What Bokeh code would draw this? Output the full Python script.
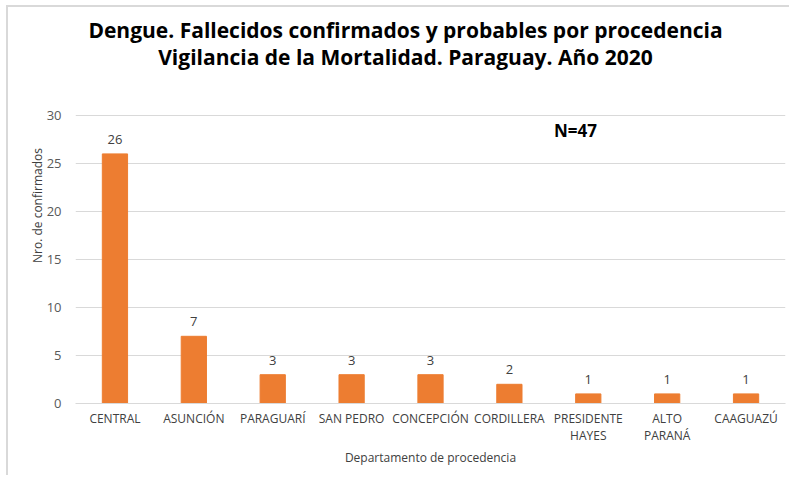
from bokeh.plotting import figure
from bokeh.models import (ColumnDataSource, Range1d, LabelSet, Label, FixedTicker, LinearAxis)
from bokeh.core.properties import value
from bokeh.embed import file_html
from bokeh.resources import INLINE

categories = ["CENTRAL", "ASUNCIÓN", "PARAGUARÍ", "SAN PEDRO", "CONCEPCIÓN",
              "CORDILLERA", "PRESIDENTE HAYES", "ALTO PARANÁ", "CAAGUAZÚ"]
deaths = [26, 7, 3, 3, 3, 2, 1, 1, 1]
y_ticks = [0, 5, 10, 15, 20, 25, 30]
label_line1 = ["CENTRAL", "ASUNCIÓN", "PARAGUARÍ", "SAN PEDRO", "CONCEPCIÓN",
               "CORDILLERA", "PRESIDENTE", "ALTO", "CAAGUAZÚ"]
label_line2 = ["", "", "", "", "", "", "HAYES", "PARANÁ", ""]
title_lines = ["Dengue. Fallecidos confirmados y probables por procedencia",
               "Vigilancia de la Mortalidad. Paraguay. Año 2020"]
total_label = "N=47"

FONT = "Open Sans"
BAR = "#ED7D31"
GRID = "#d9d9d9"
TXT = "#404040"

pos = list(range(len(categories)))
src = ColumnDataSource(dict(x=pos, top=deaths, name=categories,
                            txt=[str(v) for v in deaths]))

# frame spans from the top of the figure down to the zero line; the
# upper part of the frame holds the title text (grid only up to 30)
Y_MAX = 30
y_top = Y_MAX * 396 / 288

p = figure(width=783, height=470, output_backend="svg", toolbar_location=None,
           x_range=Range1d(-0.5, len(categories) - 0.5),
           y_range=Range1d(0, y_top),
           min_border_left=67, min_border_right=6, min_border_top=0, min_border_bottom=74)
p.margin = (7, 0, 0, 8)
p.styles = {"box-shadow": "-2px -2px 0 0 #d9d9d9"}
p.outline_line_color = None
p.background_fill_color = "white"
p.border_fill_color = "white"

p.vbar(x="x", top="top", width=0.32, source=src, fill_color=BAR, line_color=BAR)

p.add_layout(LabelSet(x="x", y="top", text="txt", source=src, text_align="center",
                      text_baseline="bottom", y_offset=10, text_font=value(FONT),
                      text_font_size="13px", text_color=TXT))

# Title
p.add_layout(Label(x=3.683, y=38.95, text=title_lines[0], text_align="center",
                   text_baseline="middle", text_font=FONT, text_font_size="21px",
                   text_font_style="bold", text_color="#000000"))
p.add_layout(Label(x=3.683, y=36.1, text=title_lines[1], text_align="center",
                   text_baseline="middle", text_font=FONT, text_font_size="21px",
                   text_font_style="bold", text_color="#000000"))
p.add_layout(Label(x=5.838, y=28.44, text=total_label, text_align="center",
                   text_baseline="middle", text_font=FONT, text_font_size="17px",
                   text_font_style="bold", text_color="#000000"))

# Grid
p.xgrid.grid_line_color = None
p.ygrid.grid_line_color = GRID
p.ygrid.grid_line_width = 1

# Y axis
yax = p.yaxis[0]
yax.ticker = FixedTicker(ticks=y_ticks)
yax.axis_line_color = None
yax.major_tick_line_color = None
yax.minor_tick_line_color = None
yax.major_label_standoff = 8
yax.major_label_text_font = FONT
yax.major_label_text_font_size = "13px"
yax.major_label_text_color = "#595959"
yax.axis_label = "Nro. de confirmados"
yax.axis_label_text_font = FONT
yax.axis_label_text_font_size = "12px"
yax.axis_label_text_font_style = "normal"
yax.axis_label_text_color = TXT
yax.axis_label_standoff = -2
p.ygrid.ticker = yax.ticker

# X axis (first line of tick labels)
xax = p.xaxis[0]
xax.ticker = FixedTicker(ticks=pos)
xax.axis_line_color = GRID
xax.major_tick_line_color = None
xax.minor_tick_line_color = None
xax.major_label_standoff = 0
xax.major_label_overrides = {i: t for i, t in zip(pos, label_line1)}
xax.major_label_text_font = FONT
xax.major_label_text_font_size = "12px"
xax.major_label_text_color = TXT

# Second line of tick labels + axis title
xax2 = LinearAxis(ticker=FixedTicker(ticks=pos))
xax2.axis_line_color = None
xax2.major_tick_line_color = None
xax2.minor_tick_line_color = None
xax2.major_label_standoff = -9
xax2.major_label_overrides = {i: t for i, t in zip(pos, label_line2)}
xax2.major_label_text_font = FONT
xax2.major_label_text_font_size = "12px"
xax2.major_label_text_color = TXT
xax2.axis_label = "Departamento de procedencia"
xax2.axis_label_text_font = FONT
xax2.axis_label_text_font_size = "12px"
xax2.axis_label_text_font_style = "normal"
xax2.axis_label_text_color = TXT
xax2.axis_label_standoff = 2
p.add_layout(xax2, "below")

open("out.html", "w").write(file_html(p, INLINE))
